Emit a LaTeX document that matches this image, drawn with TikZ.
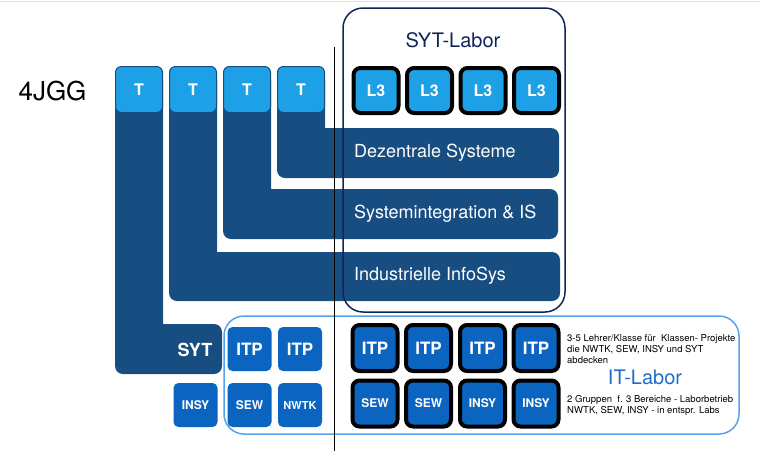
\documentclass[tikz,border=0pt]{standalone}
\usepackage{fontspec}
\setmainfont{TeX Gyre Heros}
\usetikzlibrary{positioning}
\definecolor{barblue}{RGB}{24,77,130}
\definecolor{tblue}{RGB}{30,160,230}
\definecolor{itpblue}{RGB}{10,100,192}
\definecolor{sytnavy}{RGB}{15,38,88}
\definecolor{itline}{RGB}{85,162,238}
\definecolor{ittext}{RGB}{30,110,200}
\tikzset{
  tbox/.style={fill=tblue, draw=barblue, line width=1pt, rounded corners=6pt, minimum width=47pt, minimum height=46pt, inner sep=0pt, text=white, font=\bfseries\fontsize{16}{16}\selectfont},
  labbox/.style={fill=tblue, draw=black, line width=4pt, rounded corners=7pt, minimum width=45pt, minimum height=45pt, inner sep=0pt, text=white, font=\bfseries\fontsize{16}{16}\selectfont},
  itpdark/.style={fill=itpblue, draw=black, line width=4pt, rounded corners=7pt, minimum width=45pt, minimum height=46pt, inner sep=0pt, text=white, font=\bfseries\fontsize{17}{17}\selectfont},
  itpbox/.style={fill=itpblue, rounded corners=5pt, minimum width=44pt, minimum height=44pt, inner sep=0pt, text=white, font=\bfseries\fontsize{17}{17}\selectfont},
  small/.style={font=\bfseries\fontsize{12}{12}\selectfont},
  barlabel/.style={anchor=west, text=white, inner sep=0pt, font=\fontsize{18}{18}\selectfont},
  note/.style={anchor=base west, inner sep=0pt, align=left, font=\fontsize{9.5}{11}\selectfont}
}
\begin{document}
\begin{tikzpicture}[x=1pt,y=-1pt]
    \useasboundingbox (0,0) rectangle (760,451);
    \draw [black!12] (0,1) -- (760,1);
    % columns and bars
    \foreach \a/\t/\u/\r in {115/324/374/222, 169/252/301/560, 223/189/239/558, 277/128/178/559}
        \fill [barblue] (\a,80) [rounded corners=8pt] -- (\a,\u) -- (\r,\u) -- (\r,\t) [sharp corners] -- ({\a+48},\t) -- ({\a+48},80) -- cycle;
    \node [barlabel] (dez) at (354,153) {Dezentrale Systeme};
    \node [barlabel] (sysint) at (354,214) {Systemintegration \& IS};
    \node [barlabel] (infosys) at (354,276) {Industrielle InfoSys};
    \node [text=white, font=\bfseries\fontsize{18}{18}\selectfont] (syt) at (195,350) {SYT};
    \node [font=\fontsize{26}{26}\selectfont] (klasse) at (52.5,91) {4JGG};
    \foreach \i/\x in {1/139,2/193,3/247,4/301}
        \node [tbox] (t\i) at (\x,89.5) {T};
    % SYT-Labor
    \foreach \i/\x in {1/376,2/429.5,3/483,4/536.5}
        \node [labbox] (l\i) at (\x,90.5) {L3};
    \draw [sytnavy, line width=1.5pt, rounded corners=20pt] (343,8) rectangle (565,312);
    \node [text=sytnavy, font=\fontsize{20}{20}\selectfont] (sytlabor) at (453,40) {SYT-Labor};
    % IT-Labor
    \draw [itline, line width=1.5pt, rounded corners=20pt] (224,316) rectangle (739,434);
    \node [itpbox] (itpa) at (249.5,349) {ITP};
    \node [itpbox] (itpb) at (300,349) {ITP};
    \node [itpbox, small] (insya) at (195.5,405) {INSY};
    \node [itpbox, small] (sewa) at (249.5,405) {SEW};
    \node [itpbox, small, font=\bfseries\fontsize{11}{11}\selectfont] (nwtk) at (300,405) {NWTK};
    \foreach \i/\x in {1/375,2/428.5,3/482.5,4/536}
        \node [itpdark] (itp\i) at (\x,348) {ITP};
    \foreach \i/\x/\s in {1/375/SEW,2/428.5/SEW,3/482.5/INSY,4/536/INSY}
        \node [itpdark, small] (lab\i) at (\x,403.5) {\s};
    \node [note] (proj) at (567,363) {3-5 Lehrer/Klasse für \ Klassen- Projekte\\die NWTK, SEW, INSY und SYT\\abdecken};
    \node [text=ittext, font=\fontsize{20}{20}\selectfont, anchor=base] (itlabor) at (645,384) {IT-Labor};
    \node [note] (gruppen) at (567,413) {2 Gruppen \ f. 3 Bereiche - Laborbetrieb\\NWTK, SEW, INSY - in entspr. Labs};
    \draw [black] (334,47) -- (334,451);
\end{tikzpicture}
\end{document}
